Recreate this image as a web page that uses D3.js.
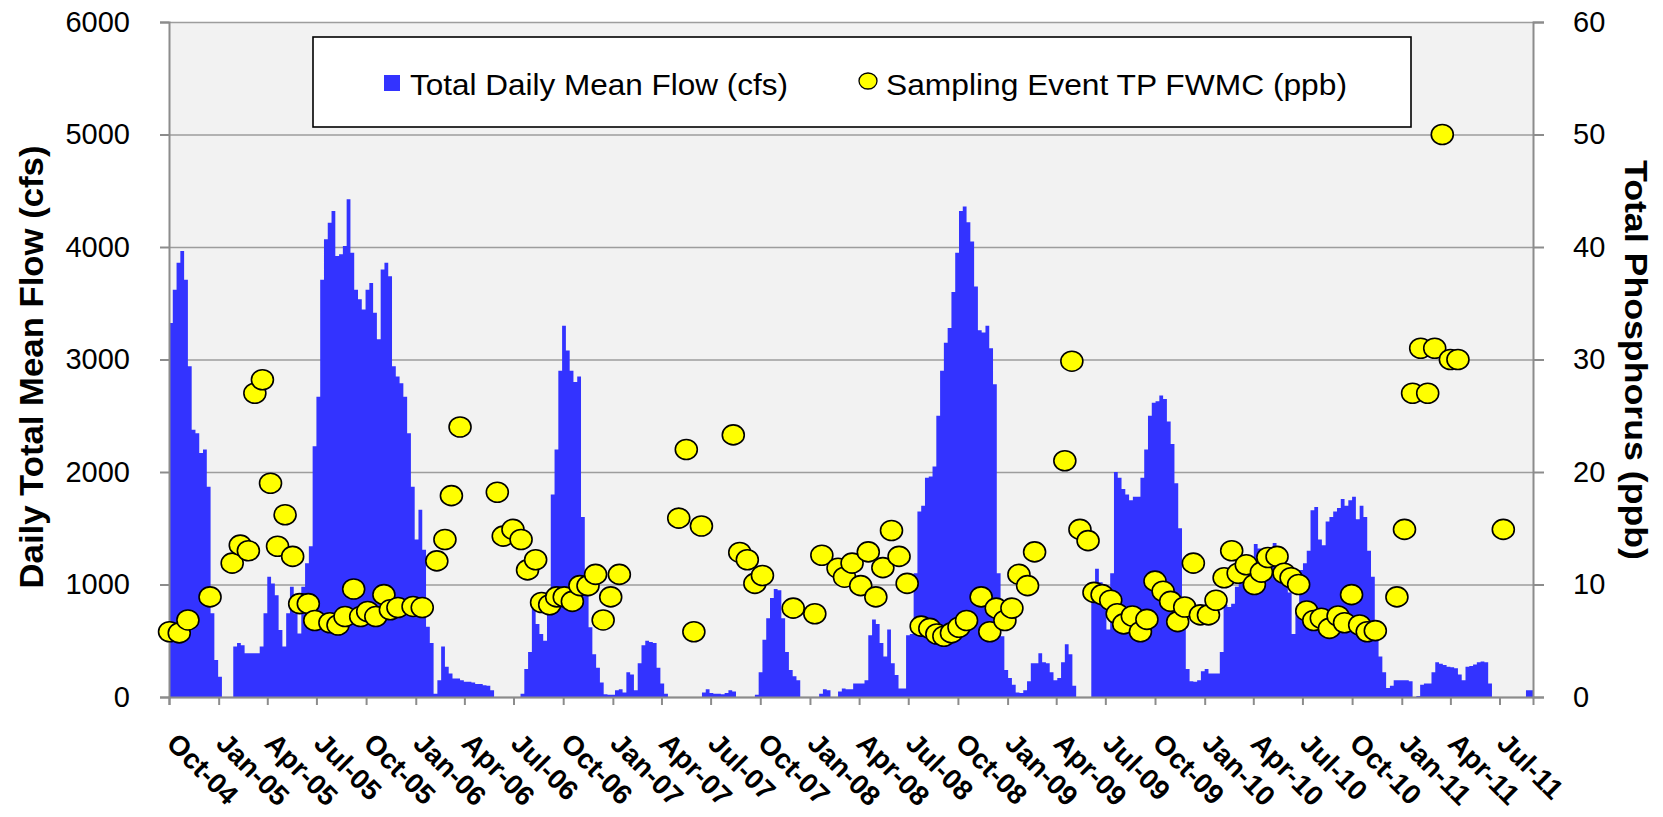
<!DOCTYPE html>
<html>
<head>
<meta charset="utf-8">
<script src="https://cdn.jsdelivr.net/npm/d3@7"></script>
<style>
  html, body { margin: 0; padding: 0; background: #ffffff; }
  svg { display: block; }
  text { font-family: "Liberation Sans", Arial, Helvetica, sans-serif; fill: #000; }
</style>
</head>
<body>
<svg id="chart" width="1663" height="817"></svg>
<script>
// ---------------- DATA ----------------
const flowStart = "2004-10-01";           // first week of the flow record
const flowStepDays = 7;                   // each value = mean for a 7-day block
const flowWeekly = [
  3325,3620,3860,3965,3710,2940,2375,2345,2170,2200,1870,745,330,180,0,0,0,450,480,460,
  390,390,390,390,450,745,1070,1010,905,595,450,745,980,745,565,980,1190,1340,2230,2670,
  3710,4070,4215,4320,3920,3935,4010,4425,3950,3620,3535,3445,3620,3680,3415,3180,3800,3860,3740,2940,
  2850,2790,2670,2345,1870,1400,1665,1310,625,480,30,150,450,270,210,165,165,150,135,135,
  130,115,115,105,100,60,0,0,0,0,0,0,0,30,250,400,850,650,560,500,
  900,1800,2200,2900,3300,3080,2900,2800,2850,1600,980,620,380,260,130,25,20,20,60,70,
  40,220,200,60,300,460,500,490,480,260,120,30,0,0,0,0,0,0,0,0,
  0,40,70,35,30,30,25,35,60,50,0,0,0,0,0,20,220,510,700,880,
  960,950,700,400,240,185,150,0,0,0,0,0,30,70,60,0,0,50,75,70,
  70,120,120,120,150,550,690,650,480,360,600,300,195,75,75,550,560,1100,1650,1700,
  1950,1960,2050,2500,2900,3150,3280,3600,3950,4320,4360,4220,4050,3650,3260,3240,3300,3100,2780,1100,
  540,240,170,110,40,35,60,140,300,300,390,310,300,220,150,170,310,470,380,100,
  0,0,0,0,1000,1140,1020,800,600,1100,2000,1950,1850,1800,1750,1780,1780,1950,2200,2500,
  2615,2630,2680,2650,2450,2250,1900,1500,700,250,140,135,150,230,250,210,210,210,400,820,
  800,830,980,1040,1060,1080,1150,1360,1320,1300,1310,1320,1370,1250,1160,1080,930,560,750,1130,
  1190,1300,1660,1690,1400,1350,1560,1600,1650,1680,1760,1700,1750,1780,1580,1700,1600,1300,1070,600,
  360,220,80,100,150,150,150,150,140,0,10,110,120,120,220,310,295,285,270,265,
  255,200,150,270,275,290,310,315,310,120,0,0,0,0,0,0,0,0,0,60,
  60
];

const tpDates = [
  "2004-10-02","2004-10-20","2004-11-05","2004-12-16","2005-01-26","2005-02-10","2005-02-25","2005-03-09","2005-03-23","2005-04-07",
  "2005-04-20","2005-05-04","2005-05-18","2005-05-31","2005-06-16","2005-06-28","2005-07-26","2005-08-10","2005-08-23","2005-09-08",
  "2005-09-21","2005-10-04","2005-10-19","2005-11-03","2005-11-15","2005-11-29","2005-12-27","2006-01-13","2006-02-09","2006-02-24",
  "2006-03-08","2006-03-24","2006-06-01","2006-06-12","2006-06-30","2006-07-15","2006-07-27","2006-08-11","2006-08-22","2006-09-06",
  "2006-09-19","2006-10-03","2006-10-18","2006-11-01","2006-11-16","2006-11-30","2006-12-14","2006-12-28","2007-01-13","2007-05-03",
  "2007-05-17","2007-05-31","2007-06-14","2007-08-12","2007-08-24","2007-09-07","2007-09-21","2007-10-05","2007-12-01","2008-01-10",
  "2008-01-23","2008-02-22","2008-03-05","2008-03-19","2008-04-04","2008-04-18","2008-05-02","2008-05-15","2008-05-31","2008-06-14",
  "2008-06-29","2008-07-25","2008-08-10","2008-08-23","2008-09-05","2008-09-19","2008-10-03","2008-10-17","2008-11-13","2008-11-29",
  "2008-12-11","2008-12-27","2009-01-09","2009-01-22","2009-02-07","2009-02-20","2009-04-17","2009-04-30","2009-05-15","2009-05-30",
  "2009-06-10","2009-06-25","2009-07-11","2009-07-23","2009-08-04","2009-08-20","2009-09-04","2009-09-16","2009-10-01","2009-10-16",
  "2009-10-30","2009-11-12","2009-11-25","2009-12-11","2009-12-24","2010-01-08","2010-01-22","2010-02-06","2010-02-20","2010-03-04",
  "2010-03-19","2010-04-03","2010-04-16","2010-04-28","2010-05-15","2010-05-28","2010-06-10","2010-06-24","2010-07-09","2010-07-22",
  "2010-08-05","2010-08-20","2010-09-05","2010-09-17","2010-09-30","2010-10-15","2010-10-29","2010-11-13","2010-12-23","2011-01-06",
  "2011-01-21","2011-02-05","2011-02-18","2011-03-03","2011-03-17","2011-04-01","2011-04-15","2011-07-08"
];
const tpValues = [
  5.8,5.7,6.85,8.9,11.9,13.5,13.0,27.0,28.2,19.0,
  13.4,16.2,12.5,8.3,8.3,6.8,6.6,6.4,7.15,9.6,
  7.15,7.6,7.15,9.1,7.75,7.95,8.05,7.95,12.1,14.0,
  17.9,24.0,18.2,14.3,14.9,14.0,11.3,12.2,8.4,8.2,
  8.9,8.9,8.5,9.9,9.9,10.9,6.85,8.9,10.9,15.9,
  22.0,5.8,15.2,23.3,12.85,12.2,10.1,10.8,7.9,7.4,
  12.6,11.45,10.65,11.9,9.9,12.9,8.9,11.5,14.8,12.5,
  10.1,6.3,6.1,5.6,5.4,5.7,6.2,6.8,8.9,5.8,
  7.9,6.8,7.9,10.9,9.9,12.9,21.0,29.85,14.9,13.9,
  9.3,9.1,8.6,7.4,6.5,7.2,5.8,6.9,10.3,9.4,
  8.5,6.7,8.0,11.9,7.3,7.3,8.6,10.6,13.0,11.0,
  11.75,10.0,11.1,12.4,12.5,11.0,10.6,10.0,7.65,6.8,
  7.0,6.1,7.2,6.6,9.1,6.4,5.8,5.9,8.9,14.9,
  27.0,31.0,27.0,31.0,50.0,30.0,30.0,14.9
];

const flowTicks = [0,1000,2000,3000,4000,5000,6000];
const tpTicks = [0,10,20,30,40,50,60];
const xDomain = ["2004-10-01","2011-09-01"];
const seriesNames = ["Total Daily Mean Flow (cfs)", "Sampling Event TP FWMC (ppb)"];
const axisTitles = ["Daily Total Mean Flow  (cfs)", "Total Phosphorus  (ppb)"];

// ---------------- CHART ----------------
const parse = d3.timeParse("%Y-%m-%d");
const svg = d3.select("#chart");
const L = 169, R = 1533, T = 22, B = 697;

const x = d3.scaleTime().domain(xDomain.map(parse)).range([L, R]);
const yFlow = d3.scaleLinear().domain([0, 6000]).range([B, T]);
const yTP = d3.scaleLinear().domain([0, 60]).range([B, T]);

const axisColor = "#8c8c8c";

// plot background
svg.append("rect").attr("x", L).attr("y", T).attr("width", R - L).attr("height", B - T)
  .attr("fill", "#f2f2f2");

// gridlines
svg.append("g").attr("transform", `translate(${L},0)`)
  .call(d3.axisLeft(yFlow).tickValues(flowTicks).tickSize(-(R - L)).tickFormat(""))
  .call(g => g.select(".domain").remove())
  .call(g => g.selectAll("line").attr("stroke", "#9d9d9d").attr("stroke-width", 1.6));

// flow (stepped weekly blocks)
const start = parse(flowStart);
const flowData = flowWeekly.map((v, i) => ({ date: d3.timeDay.offset(start, i * flowStepDays), v }));
flowData.push({ date: x.domain()[1], v: flowWeekly[flowWeekly.length - 1] });

svg.append("clipPath").attr("id", "plotclip").append("rect")
  .attr("x", L).attr("y", T).attr("width", R - L).attr("height", B - T);

svg.append("path")
  .datum(flowData)
  .attr("clip-path", "url(#plotclip)")
  .attr("fill", "#3333ff")
  .attr("d", d3.area().curve(d3.curveStepAfter)
    .x(d => x(d.date)).y0(yFlow(0)).y1(d => yFlow(d.v)));

// axes
const leftAxis = svg.append("g").attr("transform", `translate(${L},0)`)
  .call(d3.axisLeft(yFlow).tickValues(flowTicks).tickSize(9).tickPadding(30).tickFormat(d3.format("d")));
const rightAxis = svg.append("g").attr("transform", `translate(${R},0)`)
  .call(d3.axisRight(yTP).tickValues(tpTicks).tickSize(11).tickPadding(29).tickFormat(d3.format("d")));
const bottomAxis = svg.append("g").attr("transform", `translate(0,${B})`)
  .call(d3.axisBottom(x).ticks(d3.timeMonth.every(3)).tickSize(8).tickFormat(""));

[leftAxis, rightAxis, bottomAxis].forEach(g => {
  g.select(".domain").attr("stroke", axisColor).attr("stroke-width", 2);
  g.selectAll(".tick line").attr("stroke", axisColor).attr("stroke-width", 2);
});
[leftAxis, rightAxis].forEach(g => {
  g.selectAll(".tick text")
    .attr("font-size", 29).attr("font-family", "Liberation Sans, Arial, sans-serif")
    .attr("fill", "#000");
});

// x tick labels (rotated)
const fmt = d3.timeFormat("%b-%y");
const xTicks = x.ticks(d3.timeMonth.every(3)).filter(d => d < x.domain()[1]);
svg.append("g").selectAll("text").data(xTicks).join("text")
  .attr("transform", d => `translate(${x(d) - 4},${B + 48}) rotate(45)`)
  .attr("font-size", 28).attr("font-weight", "bold")
  .attr("text-anchor", "start")
  .text(d => fmt(d));

// TP markers
const tpData = tpDates.map((d, i) => ({ date: parse(d), v: tpValues[i] }));
svg.append("g").selectAll("ellipse").data(tpData).join("ellipse")
  .attr("cx", d => x(d.date)).attr("cy", d => yTP(d.v))
  .attr("rx", 11).attr("ry", 10)
  .attr("fill", "#ffff00").attr("stroke", "#000").attr("stroke-width", 1.6);

// axis titles
svg.append("text")
  .attr("transform", `translate(43,367) rotate(-90)`)
  .attr("text-anchor", "middle").attr("font-size", 34).attr("font-weight", "bold")
  .attr("textLength", 443).attr("lengthAdjust", "spacingAndGlyphs")
  .text(axisTitles[0]);
svg.append("text")
  .attr("transform", `translate(1625,360) rotate(90)`)
  .attr("text-anchor", "middle").attr("font-size", 32).attr("font-weight", "bold")
  .attr("textLength", 400).attr("lengthAdjust", "spacingAndGlyphs")
  .text(axisTitles[1]);

// legend
const lg = svg.append("g");
lg.append("rect").attr("x", 313).attr("y", 37).attr("width", 1098).attr("height", 90)
  .attr("fill", "#fff").attr("stroke", "#000").attr("stroke-width", 1.6);
lg.append("rect").attr("x", 384).attr("y", 75).attr("width", 16).attr("height", 16).attr("fill", "#3333ff");
lg.append("text").attr("x", 410).attr("y", 95).attr("font-size", 30)
  .attr("textLength", 378).attr("lengthAdjust", "spacingAndGlyphs").text(seriesNames[0]);
lg.append("ellipse").attr("cx", 868).attr("cy", 81).attr("rx", 9).attr("ry", 8)
  .attr("fill", "#ffff00").attr("stroke", "#000").attr("stroke-width", 1.3);
lg.append("text").attr("x", 886).attr("y", 95).attr("font-size", 30)
  .attr("textLength", 461).attr("lengthAdjust", "spacingAndGlyphs").text(seriesNames[1]);
</script>
</body>
</html>
